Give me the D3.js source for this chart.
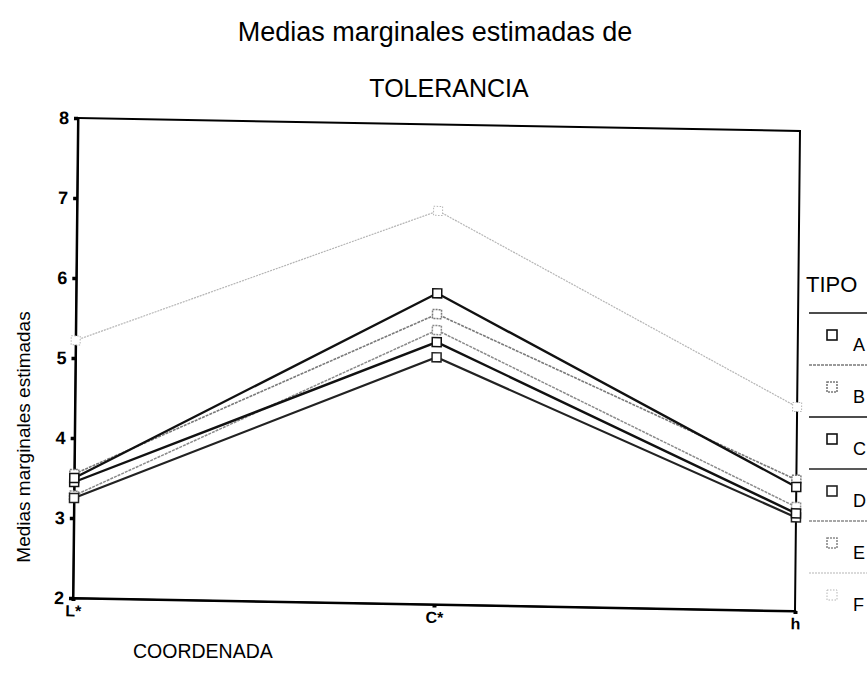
<!DOCTYPE html>
<html>
<head>
<meta charset="utf-8">
<script src="https://cdn.jsdelivr.net/npm/d3@7"></script>
<style>
  body { margin: 0; background: #fff; }
  svg { display: block; font-family: "Liberation Sans", Arial, sans-serif; }
</style>
</head>
<body>
<svg id="viz" width="867" height="688"></svg>
<script>
// Medias marginales estimadas de TOLERANCIA, por COORDENADA y TIPO
const coordenadas = ["L*", "C*", "h"];
const tipos = ["A", "B", "C", "D", "E", "F"];
const yTicks = [2, 3, 4, 5, 6, 7, 8];

const valA = [3.50, 5.89, 3.55];
const valB = [3.55, 5.63, 3.64];
const valC = [3.45, 5.28, 3.22];
const valD = [3.25, 5.09, 3.17];
const valE = [3.28, 5.43, 3.30];
const valF = [5.22, 6.92, 4.55];

const series = [valA, valB, valC, valD, valE, valF];

// look per tipo (scanned SPSS output: black, greys, light dotted)
const estilo = {
    A: { color: "#111", width: 2.4, dash: null, mdash: null },
    B: { color: "#7a7a7a", width: 1.6, dash: "3,1", mdash: "2,1" },
    C: { color: "#111", width: 2.4, dash: null, mdash: null },
    D: { color: "#222", width: 2.2, dash: null, mdash: null },
    E: { color: "#8a8a8a", width: 1.5, dash: "3,1", mdash: "2,1" },
    F: { color: "#b5b5b5", width: 1.2, dash: "2,1", mdash: "1.5,1.5" }
};

const svg = d3.select("#viz");

// the scan is slightly tilted: shear the plot about its lower-left corner
const x0 = 73, y0 = 598;
const plot = svg.append("g")
    .attr("transform", `translate(${x0},${y0}) matrix(1,0.018,-0.0104,1,0,0) translate(${-x0},${-y0})`);

const plotL = 73, plotR = 795, plotT = 118, plotB = 598;

const x = d3.scalePoint().domain(coordenadas).range([plotL, plotR]);
const y = d3.scaleLinear().domain([2, 8]).range([plotB, plotT]);

// title
svg.append("text")
    .attr("x", 435).attr("y", 41)
    .attr("text-anchor", "middle")
    .attr("font-size", 27)
    .text("Medias marginales estimadas de");
svg.append("text")
    .attr("x", 449).attr("y", 97)
    .attr("text-anchor", "middle")
    .attr("font-size", 25)
    .text("TOLERANCIA");

// frame
plot.append("rect")
    .attr("x", plotL).attr("y", plotT)
    .attr("width", plotR - plotL).attr("height", plotB - plotT)
    .attr("fill", "none")
    .attr("stroke", "#000")
    .attr("stroke-width", 2);

// y axis
const yAxis = d3.axisLeft(y).tickValues(yTicks).tickSize(4).tickPadding(5).tickFormat(d3.format("d"));
const gy = plot.append("g").attr("transform", `translate(${plotL},0)`).call(yAxis);
gy.attr("font-size", 18).attr("font-family", "Liberation Sans, Arial, sans-serif");
gy.select(".domain").attr("stroke-width", 2);
gy.selectAll(".tick line").attr("stroke-width", 3.5);
gy.selectAll(".tick text").attr("font-weight", "bold");

// x axis
const xAxis = d3.axisBottom(x).tickSize(3).tickPadding(4);
const gx = plot.append("g").attr("transform", `translate(0,${plotB})`).call(xAxis);
gx.attr("font-size", 16).attr("font-family", "Liberation Sans, Arial, sans-serif");
gx.select(".domain").attr("stroke-width", 2);
gx.selectAll(".tick line").attr("stroke-width", 4);
gx.selectAll(".tick text").attr("font-weight", "bold");

// axis titles
svg.append("text")
    .attr("transform", `translate(30,437) rotate(-90)`)
    .attr("text-anchor", "middle")
    .attr("font-size", 19)
    .text("Medias marginales estimadas");
svg.append("text")
    .attr("x", 133).attr("y", 658)
    .attr("font-size", 19.5)
    .text("COORDENADA");

// lines + markers, drawn light first so black ends on top
const line = d3.line().x((d, i) => x(coordenadas[i])).y(d => y(d));
const order = [5, 4, 1, 3, 2, 0];
const ms = 9;

order.forEach(k => {
    const t = tipos[k];
    const s = estilo[t];
    plot.append("path")
        .datum(series[k])
        .attr("d", line)
        .attr("fill", "none")
        .attr("stroke", s.color)
        .attr("stroke-width", s.width)
        .attr("stroke-dasharray", s.dash);

    plot.selectAll(null)
        .data(series[k])
        .enter().append("rect")
        .attr("x", (d, i) => x(coordenadas[i]) - ms / 2)
        .attr("y", d => y(d) - ms / 2)
        .attr("width", ms)
        .attr("height", ms)
        .attr("fill", "#fff")
        .attr("stroke", s.color)
        .attr("stroke-width", t === "F" ? 1 : 1.5)
        .attr("stroke-dasharray", s.mdash);
});

// legend
svg.append("text")
    .attr("x", 806).attr("y", 292)
    .attr("font-size", 22)
    .text("TIPO");

tipos.forEach((t, i) => {
    const s = estilo[t];
    const ly = 313 + i * 52;
    svg.append("line")
        .attr("x1", 809).attr("x2", 870)
        .attr("y1", ly).attr("y2", ly)
        .attr("stroke", s.color)
        .attr("stroke-width", t === "F" ? 1 : 1.6)
        .attr("stroke-dasharray", s.dash);
    svg.append("rect")
        .attr("x", 832 - 5).attr("y", ly + 22 - 5)
        .attr("width", 10).attr("height", 10)
        .attr("fill", "#fff")
        .attr("stroke", s.color)
        .attr("stroke-width", t === "F" ? 1 : 1.6)
        .attr("stroke-dasharray", s.mdash);
    svg.append("text")
        .attr("x", 853).attr("y", ly + 38)
        .attr("font-size", 18)
        .text(t);
});
</script>
</body>
</html>
